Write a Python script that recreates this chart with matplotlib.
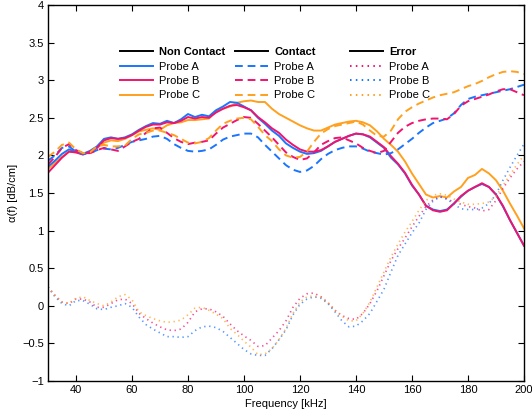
import numpy as np
import matplotlib
matplotlib.use('Agg')
import matplotlib.pyplot as plt
from matplotlib.lines import Line2D
from matplotlib.legend import Legend

plt.rcParams['font.family'] = ['Liberation Sans', 'DejaVu Sans']
plt.rcParams['font.size'] = 8

# frequency grid (kHz)
freq = np.arange(30, 200.1, 2.5)

# non contact
nc_a = [1.85, 1.93, 2.02, 2.08, 2.05, 2.02, 2.06, 2.12, 2.22, 2.24,
        2.22, 2.24, 2.28, 2.34, 2.39, 2.43, 2.42, 2.46, 2.43, 2.48,
        2.55, 2.51, 2.54, 2.52, 2.60, 2.65, 2.71, 2.70, 2.65, 2.60,
        2.50, 2.42, 2.33, 2.26, 2.16, 2.10, 2.05, 2.02, 2.03, 2.06,
        2.12, 2.18, 2.22, 2.26, 2.29, 2.28, 2.24, 2.17, 2.10, 1.97,
        1.88, 1.76, 1.60, 1.48, 1.33, 1.28, 1.26, 1.28, 1.36, 1.45,
        1.53, 1.58, 1.62, 1.58, 1.48, 1.32, 1.14, 0.97, 0.80]
nc_b = [1.77, 1.87, 1.97, 2.05, 2.04, 2.01, 2.05, 2.10, 2.20, 2.23,
        2.22, 2.23, 2.27, 2.33, 2.38, 2.41, 2.41, 2.44, 2.43, 2.46,
        2.51, 2.49, 2.51, 2.50, 2.57, 2.62, 2.66, 2.67, 2.64, 2.60,
        2.51, 2.44, 2.36, 2.30, 2.21, 2.14, 2.08, 2.05, 2.05, 2.07,
        2.12, 2.18, 2.22, 2.26, 2.29, 2.28, 2.25, 2.18, 2.11, 1.99,
        1.89, 1.77, 1.61, 1.48, 1.33, 1.27, 1.25, 1.27, 1.36, 1.46,
        1.53, 1.58, 1.63, 1.58, 1.48, 1.33, 1.14, 0.97, 0.80]
nc_c = [1.82, 1.90, 1.98, 2.05, 2.04, 2.02, 2.05, 2.10, 2.17, 2.20,
        2.19, 2.22, 2.27, 2.32, 2.34, 2.36, 2.34, 2.40, 2.43, 2.44,
        2.47, 2.47, 2.48, 2.49, 2.59, 2.62, 2.65, 2.70, 2.72, 2.73,
        2.71, 2.71, 2.62, 2.55, 2.50, 2.45, 2.40, 2.36, 2.33, 2.33,
        2.37, 2.41, 2.43, 2.45, 2.46, 2.44, 2.40, 2.32, 2.22, 2.14,
        2.05, 1.92, 1.76, 1.62, 1.48, 1.44, 1.46, 1.44, 1.52, 1.58,
        1.70, 1.74, 1.82, 1.76, 1.67, 1.53, 1.36, 1.20, 1.03]

# contact
c_a = [1.93, 2.00, 2.10, 2.12, 2.05, 2.02, 2.03, 2.07, 2.09, 2.08,
       2.10, 2.14, 2.18, 2.20, 2.22, 2.25, 2.26, 2.22, 2.15, 2.10,
       2.06, 2.05, 2.06, 2.08, 2.14, 2.21, 2.25, 2.27, 2.29, 2.29,
       2.24, 2.14, 2.05, 1.96, 1.87, 1.81, 1.78, 1.80, 1.86, 1.95,
       2.02, 2.07, 2.10, 2.12, 2.12, 2.09, 2.05, 2.03, 2.01, 2.03,
       2.08, 2.15, 2.22, 2.30, 2.37, 2.43, 2.46, 2.49, 2.56, 2.67,
       2.75, 2.78, 2.80, 2.82, 2.84, 2.86, 2.88, 2.91, 2.94]
c_b = [1.88, 1.98, 2.10, 2.15, 2.07, 2.03, 2.03, 2.07, 2.10, 2.08,
       2.06, 2.12, 2.18, 2.22, 2.30, 2.36, 2.37, 2.30, 2.23, 2.18,
       2.15, 2.17, 2.18, 2.20, 2.29, 2.37, 2.42, 2.47, 2.51, 2.50,
       2.42, 2.33, 2.24, 2.14, 2.04, 1.98, 1.94, 1.96, 2.04, 2.14,
       2.19, 2.23, 2.24, 2.20, 2.16, 2.10, 2.06, 2.03, 2.06, 2.18,
       2.30, 2.38, 2.43, 2.46, 2.48, 2.49, 2.49, 2.48, 2.55, 2.66,
       2.72, 2.75, 2.78, 2.81, 2.85, 2.88, 2.88, 2.84, 2.80]
c_c = [1.98, 2.05, 2.14, 2.17, 2.08, 2.03, 2.04, 2.12, 2.14, 2.12,
       2.12, 2.13, 2.22, 2.28, 2.30, 2.33, 2.33, 2.30, 2.27, 2.22,
       2.17, 2.16, 2.18, 2.23, 2.33, 2.42, 2.46, 2.49, 2.50, 2.48,
       2.38, 2.27, 2.19, 2.08, 2.00, 1.97, 1.98, 2.05, 2.18, 2.29,
       2.35, 2.39, 2.41, 2.43, 2.45, 2.41, 2.33, 2.26, 2.25, 2.33,
       2.48, 2.58, 2.64, 2.69, 2.73, 2.77, 2.80, 2.82, 2.84, 2.88,
       2.92, 2.95, 2.99, 3.04, 3.08, 3.11, 3.12, 3.11, 3.08]

# error
e_a = [0.25, 0.14, 0.05, 0.03, 0.09, 0.09, 0.05, -0.02, -0.02, 0.03,
       0.08, 0.09, 0.03, -0.10, -0.17, -0.23, -0.28, -0.32, -0.33, -0.31,
       -0.22, -0.08, -0.04, -0.04, -0.08, -0.14, -0.24, -0.33, -0.40, -0.46,
       -0.54, -0.53, -0.43, -0.33, -0.20, -0.02, 0.10, 0.16, 0.17, 0.12,
       0.04, -0.06, -0.13, -0.17, -0.18, -0.10, 0.03, 0.20, 0.40, 0.60,
       0.76, 0.90, 1.05, 1.19, 1.32, 1.41, 1.45, 1.42, 1.38, 1.35,
       1.32, 1.30, 1.26, 1.28, 1.40, 1.56, 1.70, 1.82, 1.92]
e_b = [0.25, 0.12, 0.03, 0.00, 0.07, 0.07, 0.02, -0.04, -0.05, -0.02,
       0.00, 0.03, -0.02, -0.15, -0.25, -0.31, -0.36, -0.41, -0.41, -0.42,
       -0.41, -0.33, -0.28, -0.27, -0.29, -0.34, -0.42, -0.50, -0.58, -0.64,
       -0.66, -0.66, -0.57, -0.45, -0.32, -0.12, 0.02, 0.09, 0.12, 0.10,
       0.03, -0.08, -0.20, -0.28, -0.27, -0.20, -0.10, 0.06, 0.22, 0.45,
       0.67, 0.82, 0.97, 1.10, 1.28, 1.39, 1.45, 1.42, 1.35, 1.29,
       1.28, 1.28, 1.30, 1.36, 1.48, 1.67, 1.84, 2.00, 2.15]
e_c = [0.25, 0.13, 0.05, 0.03, 0.10, 0.12, 0.07, 0.03, 0.00, 0.05,
       0.12, 0.15, 0.08, -0.08, -0.13, -0.17, -0.20, -0.22, -0.21, -0.19,
       -0.12, -0.03, -0.02, -0.06, -0.11, -0.17, -0.30, -0.38, -0.47, -0.55,
       -0.65, -0.64, -0.57, -0.45, -0.30, -0.10, 0.05, 0.12, 0.13, 0.11,
       0.04, -0.06, -0.14, -0.20, -0.20, -0.10, 0.05, 0.25, 0.45, 0.65,
       0.82, 0.98, 1.12, 1.27, 1.40, 1.47, 1.49, 1.47, 1.42, 1.38,
       1.35, 1.35, 1.36, 1.38, 1.46, 1.60, 1.74, 1.88, 2.00]

blue = '#1a75ff'
pink = '#f0146e'
orange = '#ffa01e'
dash = (0, (4, 2.5))
dot = (0, (0.8, 2.2))

fig = plt.figure(figsize=(5.32, 4.16), dpi=100)
ax = fig.add_axes([0.0902, 0.0841, 0.8947, 0.9039])

# solid: non contact
ax.plot(freq, nc_c, color=orange, lw=1.4)
ax.plot(freq, nc_a, color=blue, lw=1.4)
ax.plot(freq, nc_b, color=pink, lw=1.4)
# dashed: contact
ax.plot(freq, c_a, color=blue, lw=1.4, ls=dash)
ax.plot(freq, c_b, color=pink, lw=1.4, ls=dash)
ax.plot(freq, c_c, color=orange, lw=1.4, ls=dash)
# dotted: error
ax.plot(freq, e_a, color=pink, lw=1.2, ls=dot, alpha=0.75)
ax.plot(freq, e_b, color=blue, lw=1.2, ls=dot, alpha=0.75)
ax.plot(freq, e_c, color=orange, lw=1.2, ls=dot, alpha=0.75)

ax.set_xlim(30, 200)
ax.set_ylim(-1, 4)
ax.set_xticks(range(40, 201, 20))
ax.set_yticks(np.arange(-1, 4.01, 0.5))
ax.set_yticklabels(['\u22121', '\u22120.5', '0', '0.5', '1', '1.5', '2', '2.5', '3', '3.5', '4'])
ax.tick_params(direction='in', top=True, right=True, length=4, width=0.8, labelsize=8, pad=3)
for s in ax.spines.values():
    s.set_linewidth(1.0)
ax.set_xlabel('Frequency [kHz]', labelpad=3)
ax.set_ylabel('\u03b1(f) [dB/cm]', labelpad=3)

# three legend blocks, each with a bold header
groups = [('Non Contact', '-', [blue, pink, orange]),
          ('Contact', dash, [blue, pink, orange]),
          ('Error', dot, [pink, blue, orange])]
xpos = [0.151, 0.393, 0.634]
for (title, ls, cols), x0 in zip(groups, xpos):
    handles = [Line2D([], [], color='black', lw=1.4)]
    labels = [title]
    for col, name in zip(cols, ['Probe A', 'Probe B', 'Probe C']):
        handles.append(Line2D([], [], color=col, lw=1.4, ls=ls))
        labels.append(name)
    leg = Legend(ax, handles, labels, loc='upper left', bbox_to_anchor=(x0, 0.888),
                 frameon=False, handlelength=3.0, handletextpad=0.55,
                 labelspacing=0.4, borderaxespad=0, borderpad=0, fontsize=8)
    leg.get_texts()[0].set_fontweight('bold')
    ax.add_artist(leg)

fig.savefig('out.png', dpi=100)
